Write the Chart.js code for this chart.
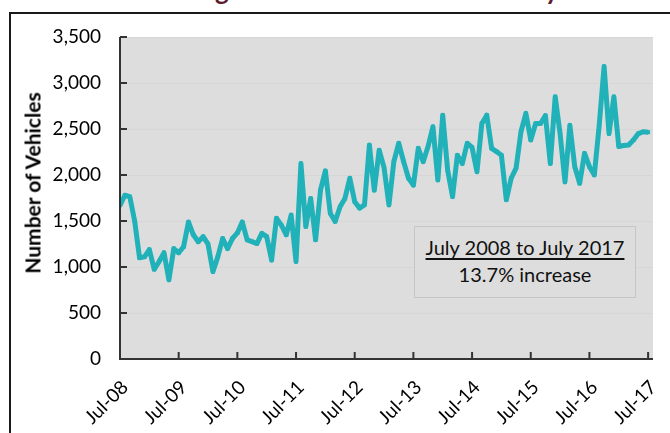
<!DOCTYPE html>
<html>
<head>
<meta charset="utf-8">
<script src="https://cdn.jsdelivr.net/npm/chart.js@4.4.0/dist/chart.umd.min.js"></script>
<style>
  body { margin: 0; background: #fff; }
  #wrap { position: relative; width: 670px; height: 433px; overflow: hidden; font-family: Lato, "Open Sans", sans-serif; }
  #frame { position: absolute; left: 9px; top: 12px; width: 720px; height: 500px; border: 2px solid #1a1a1a; box-sizing: border-box; }
  #title { position: absolute; left: 148px; top: -23px; white-space: nowrap; font-size: 26px; line-height: 26px; font-weight: bold; color: #5a1c2c; }
  #ytitle { position: absolute; left: 32px; top: 183px; transform: translate(-50%, -50%) rotate(-90deg); white-space: nowrap; font-size: 21px; font-weight: bold; color: #000; }
  #note { position: absolute; left: 414px; top: 226px; width: 222px; height: 72px; border: 1.5px solid #c6c6c6; box-sizing: border-box; background: #dddddd; text-align: center; font-size: 20px; color: #111; line-height: 27px; padding-top: 7px; }
  #note u { text-decoration-thickness: 2px; text-underline-offset: 3px; }
  canvas { position: absolute; left: 0; top: 0; }
</style>
</head>
<body>
<div id="wrap">
  <div id="frame"></div>
  <div id="title">Average Vehicle Count on Weekday</div>
  <canvas id="myChart" width="670" height="433"></canvas>
  <div id="ytitle">Number of Vehicles</div>
  <div id="note"><u>July 2008 to July 2017</u><br>13.7% increase</div>
</div>
<script>
// monthly counts, Jul-08 .. Jul-17
const vehicles = [
  1670, 1780, 1765, 1500, 1100, 1110, 1190, 975, 1060, 1155, 860, 1200,
  1155, 1220, 1490, 1350, 1275, 1330, 1250, 950, 1110, 1310, 1200, 1310,
  1370, 1490, 1295, 1275, 1255, 1365, 1330, 1075, 1530, 1455, 1350, 1565,
  1060, 2125, 1440, 1745, 1295, 1835, 2045, 1585, 1495, 1655, 1745, 1965,
  1710, 1640, 1675, 2325, 1835, 2270, 2080, 1675, 2145, 2345, 2145, 1965,
  1890, 2290, 2145, 2310, 2525, 1945, 2650, 2055, 1765, 2215, 2125, 2345,
  2300, 2035, 2560, 2650, 2290, 2255, 2215, 1730, 1965, 2075, 2470, 2670,
  2380, 2560, 2560, 2645, 2125, 2850, 2450, 1925, 2540, 2090, 1910, 2235,
  2090, 2000, 2540, 3180, 2450, 2850, 2310, 2320, 2325, 2380, 2450, 2470,
  2465
];
const yearLabels = ["Jul-08", "Jul-09", "Jul-10", "Jul-11", "Jul-12", "Jul-13", "Jul-14", "Jul-15", "Jul-16", "Jul-17"];
const yTicks = [0, 500, 1000, 1500, 2000, 2500, 3000, 3500];

const lineColor = "#21b1b9";

// gray plot area + axis lines with inside tick marks
const plotDeco = {
  id: "plotDeco",
  beforeDraw(chart) {
    const { ctx, chartArea: a } = chart;
    ctx.save();
    ctx.fillStyle = "#dddddd";
    ctx.fillRect(a.left, a.top, a.right - a.left, a.bottom - a.top);
    ctx.restore();
  },
  afterDraw(chart) {
    const { ctx, chartArea: a, scales } = chart;
    ctx.save();
    ctx.strokeStyle = "#333";
    ctx.lineWidth = 2;
    ctx.beginPath();
    ctx.moveTo(a.left, a.top);
    ctx.lineTo(a.left, a.bottom);
    ctx.lineTo(a.right, a.bottom);
    scales.y.ticks.forEach((t) => {
      const y = scales.y.getPixelForValue(t.value);
      ctx.moveTo(a.left, y);
      ctx.lineTo(a.left + 7, y);
    });
    scales.x.ticks.forEach((t) => {
      const x = scales.x.getPixelForValue(t.value);
      ctx.moveTo(x, a.bottom);
      ctx.lineTo(x, a.bottom - 7);
    });
    ctx.stroke();
    ctx.restore();
  },
};

Chart.defaults.font.family = "Lato, 'Open Sans', sans-serif";

const myChart = new Chart(document.getElementById("myChart"), {
  type: "line",
  data: {
    datasets: [
      {
        data: vehicles.map((v, i) => ({ x: i, y: v })),
        borderColor: lineColor,
        backgroundColor: lineColor,
        borderWidth: 5,
        borderJoinStyle: "round",
        pointStyle: "rect",
        pointRadius: 2.8,
        pointBorderWidth: 0,
        tension: 0,
      },
    ],
  },
  options: {
    responsive: false,
    animation: false,
    devicePixelRatio: 1,
    layout: { padding: { left: 0, top: 37, right: 17, bottom: 0 } },
    plugins: { legend: { display: false }, tooltip: { enabled: false } },
    scales: {
      x: {
        type: "linear",
        min: 0,
        max: 109,
        afterBuildTicks: (s) => {
          s.ticks = yearLabels.map((_, k) => ({ value: k * 12 }));
        },
        afterFit: (s) => {
          s.height = 74;
          s.paddingLeft = 0;
          s.paddingRight = 0;
        },
        grid: { display: false, drawTicks: false },
        border: { display: false },
        ticks: {
          autoSkip: false,
          minRotation: 45,
          maxRotation: 45,
          padding: 17,
          labelOffset: 5,
          color: "#000",
          font: { size: 19 },
          callback: (v) => yearLabels[Math.round(v / 12)],
        },
      },
      y: {
        min: 0,
        max: 3500,
        afterBuildTicks: (s) => {
          s.ticks = yTicks.map((v) => ({ value: v }));
        },
        afterFit: (s) => {
          s.width = 120;
          s.paddingTop = 0;
          s.paddingBottom = 0;
        },
        grid: { color: "#d6d6d6", drawTicks: false },
        border: { display: false },
        ticks: {
          padding: 19,
          color: "#000",
          font: { size: 19 },
          callback: (v) => v.toLocaleString("en-US"),
        },
      },
    },
  },
  plugins: [plotDeco],
});
</script>
</body>
</html>
